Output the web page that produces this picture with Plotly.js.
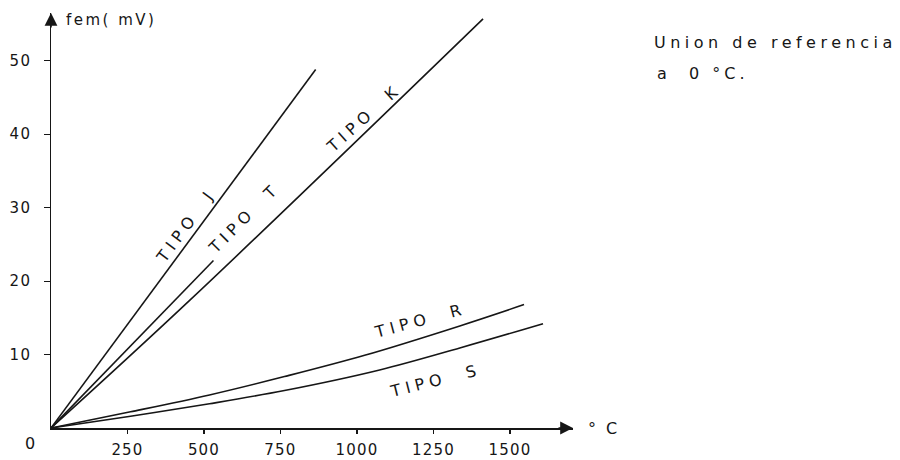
<!DOCTYPE html>
<html>
<head>
<meta charset="utf-8">
<script src="https://cdn.plot.ly/plotly-3.0.1.min.js"></script>
<style>
html,body{margin:0;padding:0;background:#fff;}
#chart{width:900px;height:460px;}
</style>
</head>
<body>
<div id="chart"></div>
<script>
// ---- data (temperature in °C, fem in mV) ----
var tipoJ_T = [0, 865];
var tipoJ_mV = [0, 48.8];
var tipoT_T = [0, 531];
var tipoT_mV = [0, 22.8];
var tipoK_T = [0, 454, 1412];
var tipoK_mV = [0, 17.4, 55.7];
var tipoR_T = [0, 260, 518, 763, 1025, 1336, 1546];
var tipoR_mV = [0, 2.2, 4.5, 7.0, 9.9, 13.9, 16.8];
var tipoS_T = [0, 260, 518, 763, 1074, 1336, 1608];
var tipoS_mV = [0, 1.6, 3.3, 5.1, 7.9, 10.9, 14.2];

var xTickVals = [250, 500, 750, 1000, 1250, 1500];
var xTickText = ['250', '500', '750', '1000', '1250', '1500'];
var yTickVals = [10, 20, 30, 40, 50];
var yTickText = ['10', '20', '30', '40', '50'];

var seriesNames = ['TIPO J', 'TIPO T', 'TIPO K', 'TIPO R', 'TIPO S'];

var INK = '#161616';
var FONT = 'DejaVu Sans, sans-serif';

function sp(t, ls) { return '<span style="letter-spacing:' + ls + 'px">' + t + '</span>'; }

function lineTrace(x, y, name, spline) {
  return {
    x: x, y: y, name: name, type: 'scatter', mode: 'lines',
    line: {color: INK, width: 1.6, shape: spline ? 'spline' : 'linear', smoothing: 1},
    hoverinfo: 'skip', showlegend: false
  };
}

var traces = [
  lineTrace(tipoJ_T, tipoJ_mV, seriesNames[0], false),
  lineTrace(tipoT_T, tipoT_mV, seriesNames[1], false),
  lineTrace(tipoK_T, tipoK_mV, seriesNames[2], true),
  lineTrace(tipoR_T, tipoR_mV, seriesNames[3], true),
  lineTrace(tipoS_T, tipoS_mV, seriesNames[4], true)
];

var labelFont = {family: FONT, size: 16, color: INK};

var annotations = [
  {xref: 'paper', yref: 'paper', x: 0.025, y: 0.983, xanchor: 'left', yanchor: 'middle',
   text: sp('fem( mV)', 2.5), showarrow: false, font: {family: FONT, size: 15, color: INK}},
  {xref: 'paper', yref: 'paper', x: 1.151, y: 0.928, xanchor: 'left', yanchor: 'middle',
   text: sp('Union de referencia', 4.5), showarrow: false, font: {family: FONT, size: 16, color: INK}},
  {xref: 'paper', yref: 'paper', x: 1.157, y: 0.855, xanchor: 'left', yanchor: 'middle',
   text: sp('a &nbsp;0 °C.', 4), showarrow: false, font: {family: FONT, size: 16, color: INK}},
  {xref: 'paper', yref: 'paper', x: 1.024, y: 0.0, xanchor: 'left', yanchor: 'middle',
   text: sp('° C', 2.5), showarrow: false, font: {family: FONT, size: 16, color: INK}},
  {xref: 'paper', yref: 'paper', x: -0.04, y: -0.038, xanchor: 'center', yanchor: 'middle',
   text: '0', showarrow: false, font: {family: FONT, size: 16, color: INK}},
  {x: 441, y: 27.6, text: sp(seriesNames[0].replace(' ', '&nbsp; '), 5), textangle: -53.6, showarrow: false, font: labelFont},
  {x: 634, y: 28.6, text: sp(seriesNames[1].replace(' ', '&nbsp; '), 5), textangle: -45, showarrow: false, font: labelFont},
  {x: 1020, y: 42.2, text: sp(seriesNames[2].replace(' ', '&nbsp; '), 5), textangle: -42, showarrow: false, font: labelFont},
  {x: 1206, y: 14.7, text: sp(seriesNames[3].replace(' ', '&nbsp; '), 5), textangle: -15, showarrow: false, font: labelFont},
  {x: 1258, y: 6.4, text: sp(seriesNames[4].replace(' ', '&nbsp; '), 5), textangle: -14, showarrow: false, font: labelFont},
  {x: 1706, y: 0, ax: -16, ay: 0, text: '', showarrow: true, arrowhead: 2, arrowsize: 1.6, arrowwidth: 1.6, arrowcolor: INK, standoff: 0},
  {x: 0, y: 56.5, ax: 0, ay: 16, text: '', showarrow: true, arrowhead: 2, arrowsize: 1.6, arrowwidth: 1.6, arrowcolor: INK, standoff: 0}
];

var layout = {
  width: 900, height: 460,
  margin: {l: 51, r: 327, t: 13, b: 32, pad: 0},
  paper_bgcolor: '#ffffff', plot_bgcolor: '#ffffff',
  showlegend: false,
  font: {family: FONT, color: INK},
  xaxis: {
    range: [0, 1706], showgrid: false, zeroline: false,
    showline: true, linecolor: INK, linewidth: 1.5,
    tickmode: 'array', tickvals: xTickVals, ticktext: xTickText.map(function(t){return sp(t, 1.2);}),
    ticks: 'outside', ticklen: 4, tickwidth: 1.2, tickcolor: INK,
    ticklabelstandoff: 3,
    tickfont: {family: FONT, size: 15, color: INK}
  },
  yaxis: {
    range: [0, 56.5], showgrid: false, zeroline: false,
    showline: true, linecolor: INK, linewidth: 1.5,
    tickmode: 'array', tickvals: yTickVals, ticktext: yTickText.map(function(t){return sp(t, 1.5);}),
    ticks: 'outside', ticklen: 6, tickwidth: 1.2, tickcolor: INK,
    ticklabelstandoff: 9,
    tickfont: {family: FONT, size: 15, color: INK}
  },
  annotations: annotations
};

Plotly.newPlot('chart', traces, layout, {staticPlot: true, displayModeBar: false});
</script>
</body>
</html>
